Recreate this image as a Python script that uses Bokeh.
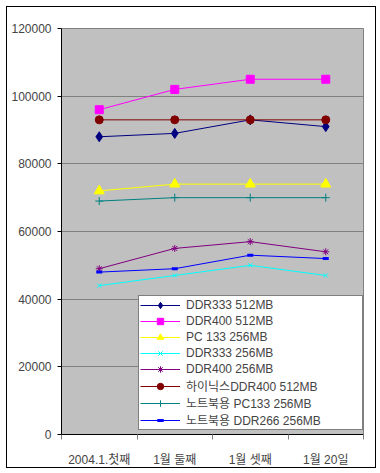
from bokeh.plotting import figure
from bokeh.models import FixedTicker, Legend, LegendItem, Range1d
from bokeh.embed import file_html
from bokeh.resources import INLINE

categories = ["2004.1.첫째", "1월 둘째", "1월 셋째", "1월 20일"]

ddr333_512 = [88000, 89000, 93000, 91000]
ddr400_512 = [96000, 102000, 105000, 105000]
pc133_256 = [72000, 74000, 74000, 74000]
ddr333_256 = [44000, 47000, 50000, 47000]
ddr400_256 = [49000, 55000, 57000, 54000]
hynix_ddr400_512 = [93000, 93000, 93000, 93000]
nb_pc133_256 = [69000, 70000, 70000, 70000]
nb_ddr266_256 = [48000, 49000, 53000, 52000]

y_ticks = [0, 20000, 40000, 60000, 80000, 100000, 120000]

series = [
    ("DDR333 512MB", ddr333_512, "#000080", "diamond", 10),
    ("DDR400 512MB", ddr400_512, "#FF00FF", "square", 8),
    ("PC 133 256MB", pc133_256, "#FFFF00", "triangle", 10),
    ("DDR333 256MB", ddr333_256, "#00FFFF", "x", 6),
    ("DDR400 256MB", ddr400_256, "#800080", "asterisk", 7),
    ("하이닉스DDR400 512MB", hynix_ddr400_512, "#800000", "circle", 8),
    ("노트북용 PC133 256MB", nb_pc133_256, "#008080", "cross", 8),
    ("노트북용 DDR266 256MB", nb_ddr266_256, "#0000FF", "dash", 6),
]

FONT = "'Liberation Sans', 'Noto Sans CJK KR', sans-serif"

p = figure(width=370, height=462, output_backend="svg", toolbar_location=None,
           x_range=Range1d(0, len(categories)), y_range=Range1d(0, 120000),
           min_border_left=54, min_border_right=14, min_border_top=21, min_border_bottom=35)
p.styles = {"border": "1px solid black", "box-sizing": "border-box",
            "margin-left": "6px", "margin-top": "6px"}
p.background_fill_color = "#C0C0C0"
p.border_fill_color = "white"
p.outline_line_color = "#808080"
p.outline_line_width = 1

xs = [i + 0.5 for i in range(len(categories))]
items = []
for name, vals, color, marker, size in series:
    r1 = p.line(xs, vals, line_color=color, line_width=1)
    if marker == "dash":
        r2 = p.scatter(xs, vals, marker=marker, size=size, line_color=color, line_width=3)
    elif marker in ("x", "asterisk", "cross"):
        r2 = p.scatter(xs, vals, marker=marker, size=size, line_color=color, line_width=1)
    else:
        r2 = p.scatter(xs, vals, marker=marker, size=size, fill_color=color, line_color=color)
    items.append(LegendItem(label=name, renderers=[r1, r2]))

legend = Legend(items=items, location=(77, 4), background_fill_color="white",
                background_fill_alpha=1, border_line_color="black", border_line_width=1,
                label_text_font=FONT, label_text_font_size="12px", label_height=16,
                glyph_height=16, glyph_width=40, spacing=0, padding=1, margin=0,
                label_standoff=6, label_width=175)
p.add_layout(legend, "center")

p.xaxis.ticker = FixedTicker(ticks=xs, minor_ticks=list(range(len(categories) + 1)))
p.xaxis.major_label_overrides = {x: c for x, c in zip(xs, categories)}
p.xaxis.major_tick_line_color = None
p.xaxis.minor_tick_out = 5
p.xaxis.minor_tick_in = 0
p.xaxis.minor_tick_line_color = "#808080"
p.xaxis.axis_line_color = "black"
p.xaxis.major_label_text_font = FONT
p.xaxis.major_label_text_font_size = "12px"
p.xaxis.major_label_standoff = 12

p.yaxis.ticker = FixedTicker(ticks=y_ticks)
p.yaxis.formatter.use_scientific = False
p.yaxis.major_tick_out = 4
p.yaxis.major_tick_in = 0
p.yaxis.minor_tick_line_color = None
p.yaxis.axis_line_color = "black"
p.yaxis.major_label_text_font = FONT
p.yaxis.major_label_text_font_size = "12px"
p.yaxis.major_label_standoff = 6

p.xgrid.grid_line_color = None
p.ygrid.ticker = FixedTicker(ticks=y_ticks)
p.ygrid.grid_line_color = "#808080"
p.ygrid.grid_line_alpha = 1

open("out.html", "w").write(file_html(p, INLINE))
